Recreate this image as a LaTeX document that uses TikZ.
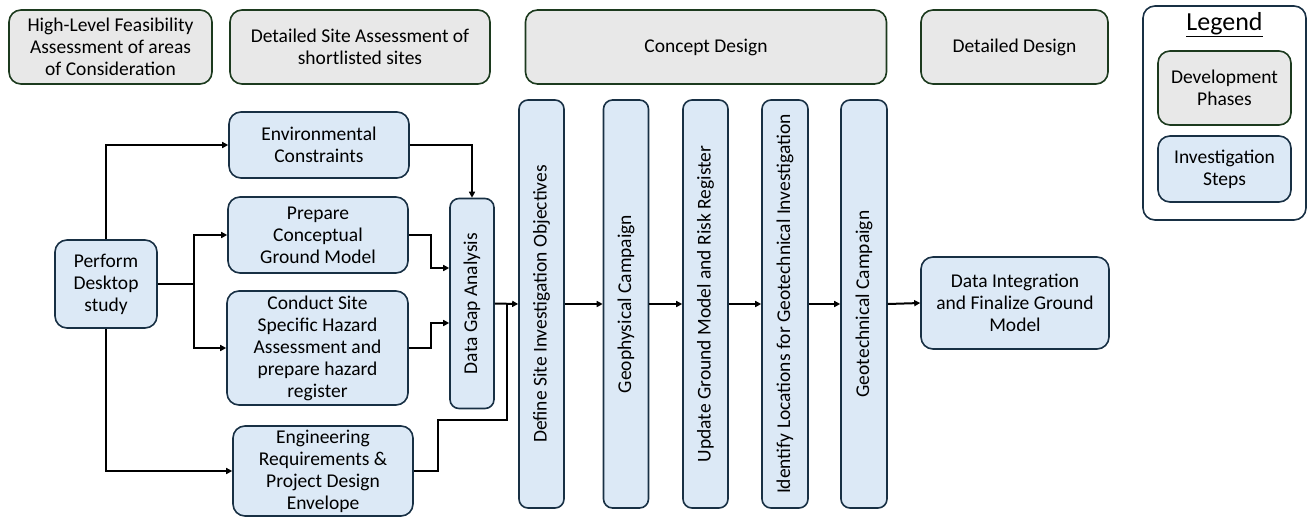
\documentclass[tikz,border=0pt]{standalone}
\usepackage{fontspec}
\setmainfont{Carlito}
\usetikzlibrary{arrows.meta, calc}
\definecolor{phasefill}{RGB}{232,232,232}
\definecolor{phaseline}{RGB}{28,58,30}
\definecolor{stepfill}{RGB}{220,233,246}
\definecolor{stepline}{RGB}{24,48,68}
\begin{document}
\begin{tikzpicture}[x=1pt, y=-1pt,
  font=\fontsize{19.5}{22}\selectfont,
  phase/.style={rectangle, rounded corners=12pt, draw=phaseline, fill=phasefill, line width=1.6pt, align=center, inner sep=1pt},
  stepbox/.style={rectangle, rounded corners=12pt, draw=stepline, fill=stepfill, line width=1.6pt, align=center, inner sep=1pt},
  vstep/.style={stepbox, rotate=90, rounded corners=9pt, minimum width=408pt, minimum height=45pt},
  link/.style={line width=2pt, -{Triangle[length=6pt, width=6pt]}}]
  \useasboundingbox (0,0) rectangle (1312,517);
  % development phases
  \node[phase, minimum width=203pt, minimum height=74pt] (p1) at (110.5, 47) {High-Level Feasibility\\Assessment of areas\\of Consideration};
  \node[phase, minimum width=260pt, minimum height=74pt] (p2) at (360, 47) {Detailed Site Assessment of\\shortlisted sites};
  \node[phase, minimum width=361pt, minimum height=74pt] (p3) at (706, 47) {Concept Design};
  \node[phase, minimum width=187pt, minimum height=74pt] (p4) at (1014.5, 47) {Detailed Design};
  % legend
  \node[rectangle, rounded corners=12pt, draw=stepline, line width=1.6pt, minimum width=163pt, minimum height=214pt] (legend) at (1224.5, 113) {};
  \node[font=\fontsize{26}{28}\selectfont] (legtitle) at (1224.5, 25) {\underline{Legend}};
  \node[phase, minimum width=133pt, minimum height=74pt] (leg1) at (1224.5, 88) {Development\\Phases};
  \node[stepbox, minimum width=133pt, minimum height=66pt] (leg2) at (1224.5, 169) {Investigation\\Steps};
  % desktop study and its branches
  \node[stepbox, minimum width=102pt, minimum height=88pt] (desk) at (106, 284) {Perform\\Desktop\\study};
  \node[stepbox, minimum width=180pt, minimum height=66pt] (env) at (319, 145) {Environmental\\Constraints};
  \node[stepbox, minimum width=180pt, minimum height=76pt] (prep) at (318, 235) {Prepare\\Conceptual\\Ground Model};
  \node[stepbox, minimum width=181pt, minimum height=114pt] (haz) at (317.5, 348) {Conduct Site\\Specific Hazard\\Assessment and\\prepare hazard\\register};
  \node[stepbox, minimum width=180pt, minimum height=90pt] (eng) at (323, 471) {Engineering\\Requirements \&\\Project Design\\Envelope};
  \node[stepbox, rotate=90, rounded corners=9pt, minimum width=210pt, minimum height=44pt] (gap) at (472, 303.5) {Data Gap Analysis};
  % investigation chain
  \node[vstep] (define) at (541.5, 304) {Define Site Investigation Objectives};
  \node[vstep] (geophys) at (626, 304) {Geophysical Campaign};
  \node[vstep] (update) at (705.5, 304) {Update Ground Model and Risk Register};
  \node[vstep, minimum height=46pt] (ident) at (785, 304) {Identify Locations for Geotechnical Investigation};
  \node[vstep, minimum height=46pt] (geotech) at (864, 304) {Geotechnical Campaign};
  \node[stepbox, minimum width=188pt, minimum height=92pt] (integ) at (1015, 303) {Data Integration\\and Finalize Ground\\Model};
  % connectors
  \draw[link] (desk.north) |- (env.west);
  \draw[line width=2pt] (desk.east) -- ++(36,0) coordinate (split);
  \draw[link] (split) |- (prep.west);
  \draw[link] (split) |- (haz.west);
  \draw[link] (desk.south) |- (eng.west);
  \draw[link] (env.east) -| (gap.east);
  \draw[link] (prep.east) -- ++(22,0) |- ($(gap.north)+(0,-35.5)$);
  \draw[link] (haz.east) -- ++(22,0) |- ($(gap.north)+(0,19.5)$);
  \coordinate (join) at ($(gap.south)!0.5!(define.north)$);
  \draw[link] (gap.south) -- (define.north);
  \draw[line width=2pt] (eng.east) -- ++(24,0) -- ++(0,-51) -| (join);
  \draw[link] (define.south) -- (geophys.north);
  \draw[link] (geophys.south) -- (update.north);
  \draw[link] (update.south) -- (ident.north);
  \draw[link] (ident.south) -- (geotech.north);
  \draw[link] (geotech.south) -- (integ.west);
\end{tikzpicture}
\end{document}
